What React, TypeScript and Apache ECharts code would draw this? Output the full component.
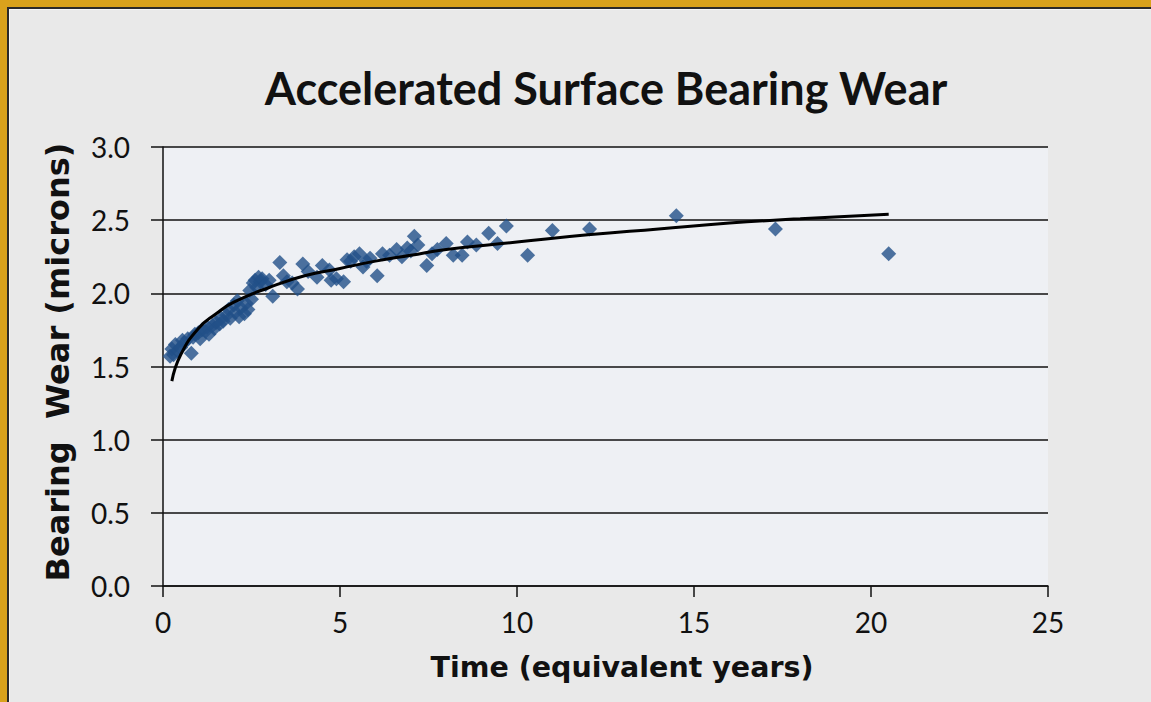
import React, { useEffect, useRef } from "react";
import * as echarts from "echarts";

const TITLE = "Accelerated Surface Bearing Wear";
const X_NAME = "Time (equivalent years)";
const Y_NAME = "Bearing  Wear (microns)";

// Measured wear points: time (equivalent years)
const timeYears = [
  0.2, 0.25, 0.3, 0.35, 0.4, 0.5, 0.55, 0.6, 0.7, 0.8, 0.85, 0.9, 1.0, 1.05, 1.1, 1.2,
  1.25, 1.3, 1.4, 1.45, 1.5, 1.6, 1.65, 1.7, 1.8, 1.85, 1.9, 2.0, 2.05, 2.1, 2.15, 2.2,
  2.3, 2.35, 2.4, 2.45, 2.5, 2.55, 2.6, 2.65, 2.7, 2.75, 2.8, 2.9, 3.0, 3.1, 3.3, 3.4,
  3.5, 3.65, 3.8, 3.95, 4.1, 4.35, 4.5, 4.7, 4.75, 4.9, 5.1, 5.2, 5.3, 5.4, 5.55, 5.65,
  5.75, 5.85, 6.05, 6.2, 6.4, 6.6, 6.75, 6.9, 7.0, 7.1, 7.2, 7.45, 7.6, 7.75, 8.0, 8.2,
  8.45, 8.6, 8.85, 9.2, 9.45, 9.7, 10.3, 11.0, 12.05, 14.5, 17.3, 20.5,
];
// Measured wear points: bearing wear (microns)
const wearMicrons = [
  1.57, 1.62, 1.58, 1.65, 1.61, 1.63, 1.68, 1.66, 1.69, 1.59, 1.70, 1.72, 1.73, 1.69, 1.75, 1.74,
  1.77, 1.72, 1.78, 1.76, 1.80, 1.79, 1.83, 1.81, 1.85, 1.89, 1.83, 1.92, 1.87, 1.95, 1.84, 1.90,
  1.86, 1.93, 1.89, 2.02, 1.96, 2.07, 2.09, 2.04, 2.11, 2.08, 2.10, 2.06, 2.09, 1.98, 2.21, 2.12,
  2.08, 2.07, 2.03, 2.20, 2.15, 2.11, 2.19, 2.16, 2.09, 2.10, 2.08, 2.23, 2.22, 2.25, 2.27, 2.18,
  2.22, 2.24, 2.12, 2.27, 2.26, 2.30, 2.25, 2.31, 2.29, 2.39, 2.33, 2.19, 2.27, 2.30, 2.34, 2.26,
  2.26, 2.35, 2.33, 2.41, 2.34, 2.46, 2.26, 2.43, 2.44, 2.53, 2.44, 2.27,
];

// Trend line
const trendX = [0.25, 0.5, 1, 1.5, 2, 3, 4, 5, 6, 7, 8, 10, 12, 14, 16, 18, 20.5];
const trendY = [1.40, 1.58, 1.76, 1.86, 1.94, 2.04, 2.12, 2.17, 2.22, 2.26, 2.30, 2.35, 2.40, 2.44, 2.48, 2.51, 2.54];

const X_TICKS = [0, 5, 10, 15, 20, 25];
const Y_TICKS = [0, 0.5, 1.0, 1.5, 2.0, 2.5, 3.0];

const FONT = "Lato, 'Open Sans', sans-serif";
const NAME_FONT = "'DejaVu Sans', Verdana, sans-serif";

export default function App() {
  const ref = useRef<HTMLDivElement>(null);

  useEffect(() => {
    if (!ref.current) return;
    const chart = echarts.init(ref.current, undefined, { renderer: "svg" });
    const scatterData = timeYears.map((x, i) => [x, wearMicrons[i]]);
    const trendData = trendX.map((x, i) => [x, trendY[i]]);
    chart.setOption({
      animation: false,
      backgroundColor: "transparent",
      textStyle: { fontFamily: FONT },
      title: {
        text: TITLE,
        left: 601,
        top: 60,
        textAlign: "center",
        textStyle: { fontFamily: FONT, fontWeight: "bold", fontSize: 45, color: "#111" },
      },
      grid: {
        left: 163,
        top: 147,
        right: 103,
        bottom: 116,
        show: true,
        backgroundColor: "#eef0f4",
        borderWidth: 0,
      },
      xAxis: {
        type: "value",
        min: X_TICKS[0],
        max: X_TICKS[X_TICKS.length - 1],
        interval: 5,
        name: X_NAME,
        nameLocation: "middle",
        nameGap: 67,
        nameTextStyle: {
          fontFamily: NAME_FONT,
          fontWeight: "bold",
          fontSize: 28.5,
          color: "#111",
          padding: [0, 0, 0, 33],
        },
        axisLine: { show: true, lineStyle: { color: "#111", width: 1.5 } },
        axisTick: { show: true, length: 11, lineStyle: { color: "#111", width: 1.5 } },
        axisLabel: { fontFamily: FONT, fontSize: 28, color: "#111", margin: 22 },
        splitLine: { show: false },
      },
      yAxis: {
        type: "value",
        min: Y_TICKS[0],
        max: Y_TICKS[Y_TICKS.length - 1],
        interval: 0.5,
        name: Y_NAME,
        nameLocation: "middle",
        nameRotate: 90,
        nameGap: 89,
        nameTextStyle: {
          fontFamily: NAME_FONT,
          fontWeight: "bold",
          fontSize: 32,
          color: "#111",
          padding: [0, 0, 0, 9],
        },
        axisLine: { show: true, lineStyle: { color: "#111", width: 1.5 } },
        axisTick: { show: true, length: 12, lineStyle: { color: "#111", width: 1.5 } },
        axisLabel: {
          fontFamily: FONT,
          fontSize: 28,
          color: "#111",
          margin: 33,
          formatter: (v: number) => v.toFixed(1),
        },
        splitLine: { show: true, lineStyle: { color: "#111", width: 1.5 } },
      },
      series: [
        {
          type: "scatter",
          name: "Wear",
          data: scatterData,
          symbol: "diamond",
          symbolSize: 15,
          itemStyle: { color: "#225088" },
          z: 2,
        },
        {
          type: "line",
          name: "Trend",
          data: trendData,
          smooth: true,
          showSymbol: false,
          symbol: "none",
          lineStyle: { color: "#000", width: 3 },
          z: 3,
        },
      ],
    });
    return () => chart.dispose();
  }, []);

  return (
    <div style={{ position: "fixed", left: 0, top: 0, width: 1151, height: 702, background: "#d9a21c", overflow: "hidden" }}>
      <div
        style={{
          position: "absolute",
          left: 7,
          top: 7,
          right: 0,
          bottom: 0,
          background: "#e9e9e9",
          borderLeft: "2px solid #2a2a2a",
          borderTop: "2px solid #2a2a2a",
          boxShadow: "inset 1px 1px 0 #f6f6f6",
        }}
      />
      <div ref={ref} style={{ position: "absolute", left: 0, top: 0, width: 1151, height: 702 }} />
    </div>
  );
}
